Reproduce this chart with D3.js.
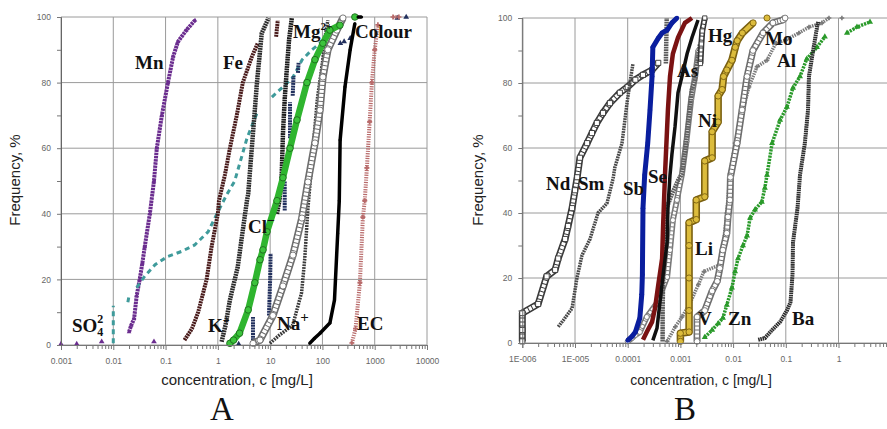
<!DOCTYPE html>
<html lang="en">
<head>
<meta charset="UTF-8">
<title>Cumulative frequency of concentrations</title>
<script src="https://d3js.org/d3.v7.min.js"></script>
<style>
  body { margin: 0; background: #fff; }
  .tick text { font-family: Arial, "Liberation Sans", sans-serif; font-size: 8.5px; fill: #666; }
  .grid line { stroke: #9a9a9a; stroke-width: 1; }
  .lbl { font-family: "Liberation Serif", "Times New Roman", serif; font-weight: bold; font-size: 19px; fill: #111; }
  .axtitle { font-family: Arial, "Liberation Sans", sans-serif; fill: #222; }
  .panel { font-family: "Liberation Serif", "Times New Roman", serif; font-size: 33px; fill: #111; }
</style>
</head>
<body>
<svg id="chart" width="887" height="429"></svg>
<script>
  // ---- panel A data: [concentration mg/L, frequency %], null = gap ----
  const mn = [[0.020,4],[0.022,6],[0.025,8],[0.028,15],[0.032,20],[0.036,25],[0.040,30],[0.050,40],[0.060,50],[0.068,60],[0.085,70],[0.111,80],[0.14,88],[0.173,92.5],[0.25,96],[0.365,99]];
  const fe = [[0.23,1.5],[0.32,5],[0.42,10],[0.61,20],[0.76,30],[1.0,40],[1.05,44],[1.37,52],[1.7,60],[2.3,70],[3.0,80],[4.5,88],[5.8,92],null,[13,94],[14,99]];
  const so4 = [[0.01,0.5],[0.01,12],null,[0.019,13],[0.02,15],null,[0.028,17.5],[0.04,21],[0.063,24.5],[0.11,27],[0.2,28.5],[0.36,30.5],[0.65,34.5],[1.0,40.6],[1.5,46],[2.1,50],[3.6,63],[5.6,70.7],null,[10.8,75.6],[17.6,78.7],[27.5,81.7],[41,87],[63,90],[97,92.4],[130,96]];
  const k = [[1.18,1],[1.4,6],[1.7,13.7],[2.4,23.8],[3.0,35],[3.6,44],[3.8,46],[4.7,64.6],[5.6,80],[6.9,95],[9.3,99.7]];
  const mg = [[13.5,40],[15,44],[16.5,50],[17.6,64.6],[19,75],[21,84.8],[23,93],[26,99.7]];
  const navy = [[4.7,0.6],[4.7,8.5],null,[9.5,9],[10,20],[10.2,28],null,[19,41],[19,50],null,[24,63],[24,74],null,[27,76],[28,82],null,[34,83],[35,86]];
  const navyPts = [[2.5,0.3],[220,92],[260,92.5],[340,93.5],[2700,99.7],[4000,100]];
  const cl = [[1.7,0.5],[2.0,1.5],[2.6,3.6],[3.8,10.7],[5.1,19],[6.4,26],[7.3,29],[8.7,34.5],[13.5,44],[17.6,51],[24,60],[32.6,68.6],[50.6,80],[72,87],[102,92],[139,96],[216,97.5],null,[417,100]];
  const na = [[4.7,0.5],[6.4,1.5],[11.3,9],[17.6,18],[27.3,27.4],[40.5,38.7],[52.8,49.7],[72,61.6],[89.6,71.6],[102,81.7],[127,90],[189,96],[247,99.7]];
  const dots = [[9.9,0.5],[15,3],[22,5],[27,6],[40,16],[46,26.5],[53,42],[60,52],[68,62],[80,75],[100,86],[115,95],[127,99]];
  const colour = [[57,0.5],[70,2],[90,3.6],[139,6.7],[170,13.7],[196,34],[210,44],[218,62.5],[270,78.7],[339,90],[417,98],null,[480,100],[560,100]];
  const ec = [[366,0.6],[430,5],[521,19],[594,39],[645,44],[708,54],[800,68],[884,80],[1000,90],[1150,97.6],null,[2240,100],[2900,100]];
  const lowPts = [[0.001,0.3],[0.002,0.3],[0.006,1],[0.06,1]];

  // ---- panel B data ----
  const nd = [[1e-6,0.5],[1e-6,4],[1e-6,9.2],[2e-6,12],[2.9e-6,20.5],[4.2e-6,22.5],[4.8e-6,26],[6.5e-6,32],[7.4e-6,36],[8.8e-6,41.5],[1e-5,47],[1.1e-5,51],[1.24e-5,57],[1.7e-5,61.5],[2.1e-5,64.6],[2.6e-5,67.7],[3.4e-5,70.8],[4.6e-5,73.8],[7.1e-5,77],[1.0e-4,78.8],[1.4e-4,81],[1.95e-4,82.5],[2.9e-4,84],[3.8e-4,86.2]];
  const sm = [[4.8e-6,5],[6e-6,7],[8.8e-6,10.7],[1.09e-5,20],[1.36e-5,27],[1.93e-5,32],[2.73e-5,40],[4.05e-5,43],[5.3e-5,50.7],[5.7e-5,54],[7.8e-5,61.5],[9.7e-5,73.8],[1.1e-4,80],[1.26e-4,86]];
  const sb = [[1.0e-4,0.8],[1.2e-4,2],[1.4e-4,3.4],[1.7e-4,7.7],[1.85e-4,15],[1.9e-4,21],[1.95e-4,41.5],[2.1e-4,51.7],[2.4e-4,61.5],[2.65e-4,71.7],[2.9e-4,82],[3.0e-4,91],[3.8e-4,93.8],[4.5e-4,95.4],[5.6e-4,96.3],[6.9e-4,98.5],[8.6e-4,100]];
  const se = [[1.95e-4,1],[2.3e-4,3.4],[2.9e-4,6.5],[3.3e-4,10.7],[3.8e-4,17.8],[4.5e-4,26],[4.7e-4,36],[5.1e-4,51.7],[5.8e-4,71.7],[6.35e-4,82],[7.2e-4,89],[9.0e-4,94],[1.22e-3,98.5],[1.66e-3,100]];
  const as = [[3.0e-4,0.8],[3.6e-4,4.6],[4.1e-4,12.6],[4.7e-4,21],[5.6e-4,31],[5.8e-4,41.5],[6.35e-4,51.7],[6.9e-4,58],[7.9e-4,66.5],[9.0e-4,77],[1.07e-3,82],[1.34e-3,89],[1.66e-3,94],[2.16e-3,99.4]];
  const hg = [[4.6e-4,0.5],[4.6e-4,10],[4.7e-4,20],[4.8e-4,30],[5.0e-4,37],[5.6e-4,42],[7e-4,46],[9e-4,50],[1.07e-3,52],[1.25e-3,60],[1.45e-3,70],[1.65e-3,78],[1.9e-3,81],[2.35e-3,92]];
  const hgTop = [[2.4e-3,86],[2.5e-3,92],[2.6e-3,96],[2.9e-3,100]];
  const greyTop = [[5.3e-4,86],[5.4e-4,93],[5.5e-4,100]];
  const vLow = [[1.0e-4,0.5],[1.2e-4,1.5],[1.4e-4,2.5],[1.7e-4,3.4],[2.3e-4,8],[3.6e-4,12.3],[5.6e-4,20.3],[6.35e-4,28.6],[7.2e-4,37.8],[8.6e-4,44],[1.07e-3,52],[1.3e-3,62],[1.6e-3,75],[1.9e-3,82],[2.2e-3,90]];
  const niLi = [[1e-3,0.5],[1e-3,3],[1.46e-3,3.4],[1.46e-3,10],[1.46e-3,20],[1.46e-3,30],[1.46e-3,37],[2.0e-3,38],[2.0e-3,44],[2.9e-3,45],[2.9e-3,56],[4.0e-3,57],[4.0e-3,65],[5.2e-3,68],[5.2e-3,76],[6.2e-3,78],[6.6e-3,82],[7.6e-3,84],[9.5e-3,87],[1.1e-2,91],[1.2e-2,93],[1.5e-2,95.4],[2.4e-2,98.5],null,[4.4e-2,100]];
  const moV = [[2.07e-3,0.5],[2.07e-3,8],[2.9e-3,10],[4.0e-3,16],[5.0e-3,19],[5.6e-3,23],[6.4e-3,28.6],[7.6e-3,33.8],[8.0e-3,38.8],[8.7e-3,44],[8.9e-3,51],[1.19e-2,61.5],[1.48e-2,71.7],[1.84e-2,82],[2.38e-2,90],[3.7e-2,95.4],[5.7e-2,98.5],[8.8e-2,99.4],[9.7e-2,100]];
  const al = [[5.6e-4,0.5],[8e-4,5],[1.07e-3,8],[1.5e-3,12],[2.2e-3,18],[2.8e-3,22],[5.5e-3,24],[6.5e-3,30],[7.6e-3,40],[8.7e-3,52],[1.09e-2,61.5],[1.54e-2,71.7],[2.0e-2,78.8],[2.84e-2,85],[4.4e-2,87],[6.5e-2,92.3],[1.0e-1,93.2],[1.77e-1,95.4],[2.75e-1,97.2],[4.85e-1,98.5],[6.6e-1,100],null,[1.16,100]];
  const zn = [[2.9e-3,1.8],[4.0e-3,4],[5.2e-3,6],[6.4e-3,7.7],[7.6e-3,11.7],[9.5e-3,17],[1.09e-2,22],[1.24e-2,26],[1.54e-2,30],[1.84e-2,33],[2.1e-2,38.5],[2.6e-2,41],[3.5e-2,43.4],[4.0e-2,47.7],[4.4e-2,51.7],[5.5e-2,61.5],[7.8e-2,68.6],[1.05e-1,72.6],[1.37e-1,78.5],[1.86e-1,82],[2.5e-1,87.4],[3.9e-1,91],[5.5e-1,94.2],null,[1.45,95.4],[2.24,97.2],[3.96,98.8]];
  const ba = [[3.0e-2,1],[4.0e-2,1.5],[5.5e-2,4],[7.8e-2,6.5],[1.05e-1,10],[1.23e-1,12.6],[1.34e-1,21],[1.37e-1,31],[1.67e-1,41.5],[1.86e-1,51.7],[2.3e-1,61.5],[2.64e-1,71.7],[2.75e-1,82],[3.3e-1,90],[3.9e-1,97],[4.1e-1,98.8]];

  // ---- axes ----
  const yTicks = [0, 20, 40, 60, 80, 100];
  const yMinor = [10, 30, 50, 70, 90];
  const leftXTicks = [0.001, 0.01, 0.1, 1, 10, 100, 1000, 10000];
  const leftXLabels = ['0.001', '0.01', '0.1', '1', '10', '100', '1000', '10000'];
  const rightXTicks = [1e-6, 1e-5, 1e-4, 1e-3, 0.01, 0.1, 1, 10];
  const rightXLabels = ['1E-006', '1E-005', '0.0001', '0.001', '0.01', '0.1', '1', '10'];

  const svg = d3.select('#chart');

  function minorTicks(decades) {
    const out = [];
    decades.slice(0, -1).forEach(d => { for (let m = 2; m < 10; m++) out.push(d * m); });
    return out;
  }

  function panel(cfg) {
    const x = d3.scaleLog().domain(cfg.xDomain).range(cfg.xRange);
    const y = d3.scaleLinear().domain([0, 100]).range(cfg.yRange);
    const g = svg.append('g');

    // grid
    const grid = g.append('g').attr('class', 'grid');
    grid.selectAll('.v').data(cfg.xTicks).enter().append('line')
      .attr('x1', d => x(d)).attr('x2', d => x(d))
      .attr('y1', y(0)).attr('y2', y(100));
    grid.selectAll('.h').data(yTicks).enter().append('line')
      .attr('x1', x(cfg.xDomain[0])).attr('x2', x(cfg.xDomain[1]))
      .attr('y1', d => y(d)).attr('y2', d => y(d));

    const line = d3.line().defined(d => d !== null).x(d => x(d[0])).y(d => y(d[1]));

    cfg.series.forEach(s => {
      if (s.hollow) {
        g.append('path').attr('d', line(s.data)).attr('fill', 'none')
          .attr('stroke', s.color).attr('stroke-width', s.width).attr('stroke-linejoin', 'round');
        g.append('path').attr('d', line(s.data)).attr('fill', 'none')
          .attr('stroke', s.inner || '#fff').attr('stroke-width', s.width - 3.2)
          .attr('stroke-dasharray', s.innerDash || null).attr('stroke-linejoin', 'round');
      } else if (s.width) {
        g.append('path').attr('d', line(s.data)).attr('fill', 'none')
          .attr('stroke', s.color).attr('stroke-width', s.width)
          .attr('stroke-dasharray', s.dash || null);
      }
      if (s.symbol) {
        g.selectAll(null).data(s.data.filter(d => d !== null)).enter().append('path')
          .attr('transform', d => `translate(${x(d[0])},${y(d[1])})`)
          .attr('d', d3.symbol().type(s.symbol).size(s.size || 14))
          .attr('fill', s.fill || s.color)
          .attr('stroke', s.stroke || 'none')
          .attr('stroke-width', 0.9);
      }
    });

    // axes
    const xAxis = d3.axisBottom(x).tickValues(cfg.xTicks)
      .tickFormat((d, i) => cfg.xLabels[i]).tickSize(5).tickPadding(8);
    const ax = g.append('g').attr('transform', `translate(0,${y(0)})`).call(xAxis);
    ax.select('.domain').attr('stroke', '#777');
    ax.selectAll('.tick line').attr('stroke', '#777');
    const xMinor = d3.axisBottom(x).tickValues(minorTicks(cfg.xTicks)).tickFormat('').tickSize(4);
    g.append('g').attr('transform', `translate(0,${y(0)})`).call(xMinor)
      .call(a => a.select('.domain').remove())
      .selectAll('.tick line').attr('stroke', '#777');

    const yAxis = d3.axisLeft(y).tickValues(yTicks).tickSize(4).tickPadding(6);
    const ay = g.append('g').attr('transform', `translate(${x(cfg.xDomain[0])},0)`).call(yAxis);
    ay.select('.domain').attr('stroke', '#666');
    ay.selectAll('.tick line').attr('stroke', '#777');
    g.append('g').attr('transform', `translate(${x(cfg.xDomain[0])},0)`)
      .call(d3.axisLeft(y).tickValues(yMinor).tickFormat('').tickSize(4))
      .call(a => a.select('.domain').remove())
      .selectAll('.tick line').attr('stroke', '#777');

    // titles
    g.append('text').attr('class', 'axtitle')
      .attr('x', cfg.xTitleX).attr('y', 385).attr('text-anchor', 'middle')
      .attr('font-size', cfg.xTitleSize).text('concentration, c [mg/L]');
    g.append('text').attr('class', 'axtitle')
      .attr('transform', `translate(${cfg.yTitleX},180) rotate(-90)`)
      .attr('text-anchor', 'middle').attr('font-size', 15).text('Frequency, %');
    g.append('text').attr('class', 'panel').attr('x', cfg.panelX).attr('y', 420)
      .attr('text-anchor', 'middle').text(cfg.panel);

    // element labels
    cfg.labels.forEach(l => {
      const t = g.append('text').attr('class', 'lbl').attr('x', l.x).attr('y', l.y).text(l.t);
      (l.parts || []).forEach(p => {
        t.append('tspan').attr('font-size', p.size || 12)
          .attr('dx', p.dx || 0).attr('dy', p.dy || 0).text(p.t);
      });
    });
  }

  panel({
    xDomain: [0.001, 10000], xRange: [61, 427], yRange: [345, 17],
    xTicks: leftXTicks, xLabels: leftXLabels,
    xTitleX: 237, xTitleSize: 15, yTitleX: 20, panelX: 222, panel: 'A',
    series: [
      { data: lowPts, symbol: d3.symbolTriangle, size: 14, color: '#6b2d8f' },
      { data: mn, color: '#6b2d8f', width: 4, dash: '2.5,0.7', symbol: d3.symbolTriangle, size: 9 },
      { data: so4, color: '#3f9b9b', width: 3, dash: '5,4' },
      { data: fe, color: '#4a1c1c', width: 4, dash: '2,0.7' },
      { data: k, color: '#2a2a2a', width: 4.5, dash: '1.8,0.7' },
      { data: navy, color: '#22305e', width: 4, dash: '2,0.7' },
      { data: navyPts, color: '#22305e', symbol: d3.symbolTriangle, size: 14 },
      { data: mg, color: '#1a1a1a', width: 4.5, dash: '1.8,0.6' },
      { data: dots, color: '#3a3a3a', width: 3.5, dash: '1.8,1' },
      { data: na, color: '#6e6e6e', width: 7.5, hollow: true, innerDash: '3,1', symbol: d3.symbolCircle, size: 30, fill: '#fff', stroke: '#6e6e6e' },
      { data: cl, color: '#2fb52f', width: 6.5, symbol: d3.symbolCircle, size: 34, fill: '#3cc33c', stroke: '#1d6b1d' },
      { data: colour, color: '#000', width: 3.5, symbol: d3.symbolCircle, size: 8 },
      { data: ec, color: '#b86a6a', width: 4, dash: '1.2,1.2', symbol: d3.symbolCross, size: 14 }
    ],
    labels: [
      { t: 'Mn', x: 135, y: 69 },
      { t: 'Fe', x: 223, y: 69 },
      { t: 'Mg', x: 293, y: 38, parts: [{ t: '2+', dy: -8, size: 11 }] },
      { t: 'Colour', x: 355, y: 38 },
      { t: 'Cl', x: 248, y: 233, parts: [{ t: '−', dy: -8, size: 14 }] },
      { t: 'K', x: 208, y: 332, parts: [{ t: '+', dy: -8, size: 12 }] },
      { t: 'Na', x: 277, y: 330, parts: [{ t: '+', dy: -8, size: 15 }] },
      { t: 'EC', x: 357, y: 330 },
      { t: 'SO', x: 72, y: 332, parts: [{ t: '4', dy: 4, size: 12 }, { t: '2', dx: -6, dy: -13, size: 12 }] }
    ]
  });

  panel({
    xDomain: [1e-6, 10], xRange: [522.3, 891.2], yRange: [343, 18],
    xTicks: rightXTicks, xLabels: rightXLabels,
    xTitleX: 701, xTitleSize: 14, yTitleX: 483, panelX: 685, panel: 'B',
    series: [
      { data: nd, color: '#3a3a3a', width: 7, hollow: true, innerDash: '3,1', symbol: d3.symbolSquare, size: 26, fill: '#fff', stroke: '#333' },
      { data: sm, color: '#4a4a4a', width: 3.5, dash: '1.8,0.8' },
      { data: vLow, color: '#7a7a7a', width: 6, hollow: true, innerDash: '3,1', symbol: d3.symbolCircle, size: 20, fill: '#fff', stroke: '#777' },
      { data: hg, color: '#606060', width: 4.5, dash: '1.8,0.7' },
      { data: greyTop, color: '#5a5a5a', width: 4.5, dash: '1.8,0.7' },
      { data: hgTop, color: '#333', width: 6, hollow: true, innerDash: '3,1', symbol: d3.symbolSquare, size: 18, fill: '#fff', stroke: '#333' },
      { data: sb, color: '#0a1e9e', width: 5, symbol: d3.symbolCircle, size: 16 },
      { data: se, color: '#7a1212', width: 4.5 },
      { data: as, color: '#111', width: 3.5 },
      { data: al, color: '#7a7a7a', width: 3.5, dash: '1.5,1', symbol: d3.symbolCross, size: 12 },
      { data: moV, color: '#6e6e6e', width: 7, hollow: true, innerDash: '3,1', symbol: d3.symbolCircle, size: 26, fill: '#fff', stroke: '#6e6e6e' },
      { data: niLi, color: '#7a6010', width: 7.5, hollow: true, inner: '#dcbc3c', symbol: d3.symbolCircle, size: 30, fill: '#dcbc3c', stroke: '#7a6010' },
      { data: zn, color: '#2a9a2a', width: 3.5, dash: '2.2,1', symbol: d3.symbolTriangle, size: 16 },
      { data: ba, color: '#2e2e2e', width: 4, dash: '1.6,0.6' }
    ],
    labels: [
      { t: 'Hg', x: 708, y: 42 },
      { t: 'Mo', x: 765, y: 45 },
      { t: 'Al', x: 777, y: 67 },
      { t: 'As', x: 677, y: 77 },
      { t: 'Ni', x: 698, y: 127 },
      { t: 'Nd', x: 546, y: 190 },
      { t: 'Sm', x: 578, y: 190 },
      { t: 'Sb', x: 623, y: 195 },
      { t: 'Se', x: 648, y: 183 },
      { t: 'Li', x: 695, y: 255 },
      { t: 'V', x: 698, y: 325 },
      { t: 'Zn', x: 728, y: 325 },
      { t: 'Ba', x: 792, y: 325 }
    ]
  });
</script>
</body>
</html>
